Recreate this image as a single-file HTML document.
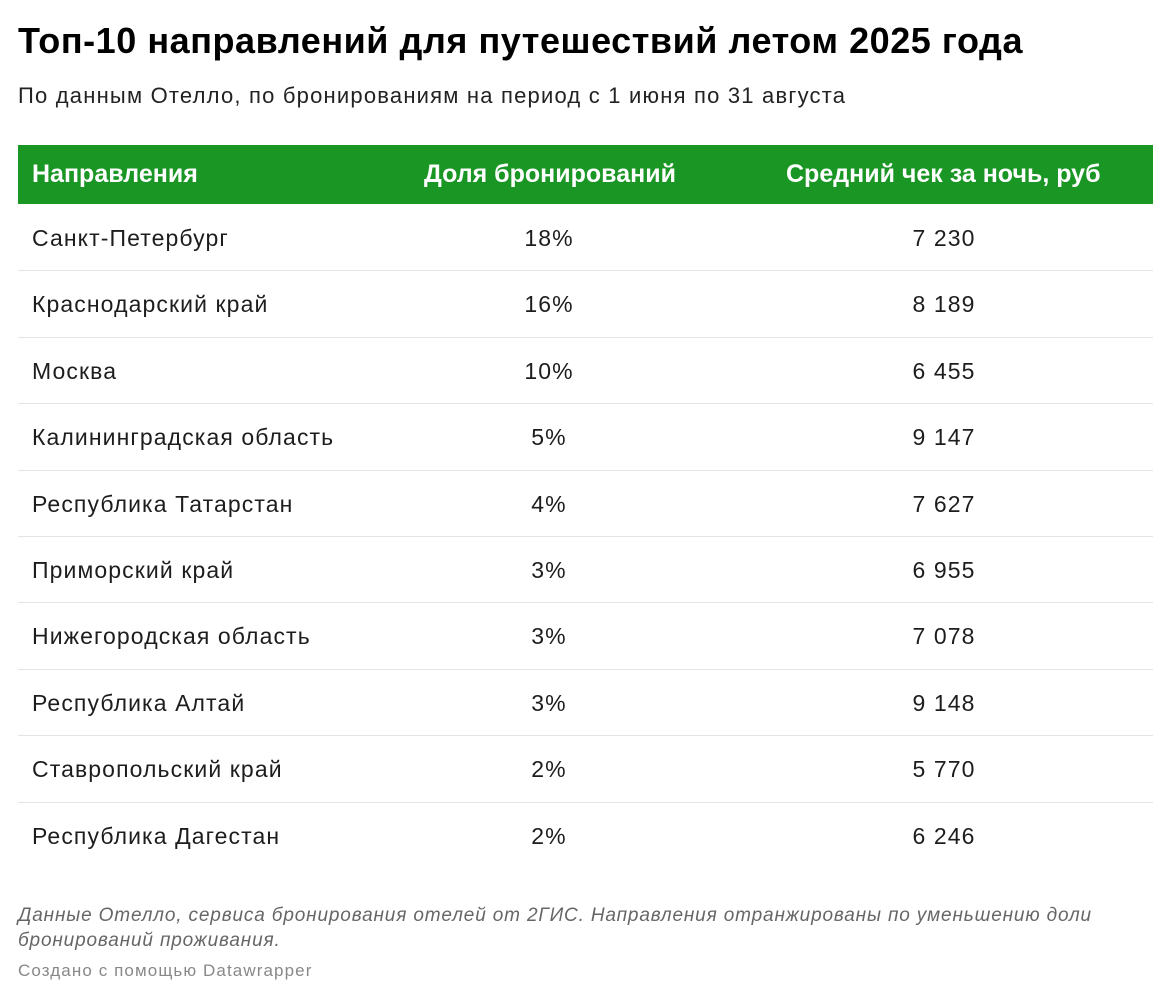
<!DOCTYPE html>
<html><head><meta charset="utf-8"><style>
body{margin:0;width:1171px;height:1000px;background:#fff;font-family:"Liberation Sans",sans-serif;color:#1d1d1d;position:relative;overflow:hidden}
.a{position:absolute;white-space:nowrap}
h1{position:absolute;left:18px;top:20px;margin:0;font-size:36px;font-weight:bold;letter-spacing:0.55px;color:#000}
.sub{left:18px;top:83px;font-size:22px;letter-spacing:1.2px;color:#222}
.hdr{position:absolute;left:18px;top:145px;width:1135px;height:59px;background:#1a9625}
.h{top:160px;font-size:25px;font-weight:bold;color:#fff;letter-spacing:0px}
.row{position:absolute;left:18px;width:1135px;height:66.4px;border-bottom:1px solid #e4e4e4}
.row span{position:absolute;top:21px;font-size:23px;letter-spacing:1.1px}
.c1{left:14px}.c2{left:431px;width:200px;text-align:center}.c3{left:808px;width:236px;text-align:center}
.note{left:18px;top:903px;font-size:19px;letter-spacing:0.85px;font-style:italic;color:#666;line-height:25px;white-space:normal;width:1100px}
.cr{left:18px;top:961px;font-size:17px;letter-spacing:1.1px;color:#888}
</style></head><body>
<h1>Топ-10 направлений для путешествий летом 2025 года</h1>
<div class="a sub">По данным Отелло, по бронированиям на период с 1 июня по 31 августа</div>
<div class="hdr"></div>
<div class="a h" style="left:32px">Направления</div>
<div class="a h" style="left:424px">Доля бронирований</div>
<div class="a h" style="left:786px">Средний чек за ночь, руб</div>
<div class="row" style="top:204px"><span class="c1">Санкт-Петербург</span><span class="c2">18%</span><span class="c3">7 230</span></div>
<div class="row" style="top:270.4px"><span class="c1">Краснодарский край</span><span class="c2">16%</span><span class="c3">8 189</span></div>
<div class="row" style="top:336.8px"><span class="c1">Москва</span><span class="c2">10%</span><span class="c3">6 455</span></div>
<div class="row" style="top:403.2px"><span class="c1">Калининградская область</span><span class="c2">5%</span><span class="c3">9 147</span></div>
<div class="row" style="top:469.6px"><span class="c1">Республика Татарстан</span><span class="c2">4%</span><span class="c3">7 627</span></div>
<div class="row" style="top:536px"><span class="c1">Приморский край</span><span class="c2">3%</span><span class="c3">6 955</span></div>
<div class="row" style="top:602.4px"><span class="c1">Нижегородская область</span><span class="c2">3%</span><span class="c3">7 078</span></div>
<div class="row" style="top:668.8px"><span class="c1">Республика Алтай</span><span class="c2">3%</span><span class="c3">9 148</span></div>
<div class="row" style="top:735.2px"><span class="c1">Ставропольский край</span><span class="c2">2%</span><span class="c3">5 770</span></div>
<div class="row" style="top:801.6px;border-bottom:none"><span class="c1">Республика Дагестан</span><span class="c2">2%</span><span class="c3">6 246</span></div>
<div class="a note">Данные Отелло, сервиса бронирования отелей от 2ГИС. Направления отранжированы по уменьшению доли бронирований проживания.</div>
<div class="a cr">Создано с помощью Datawrapper</div>
</body></html>
